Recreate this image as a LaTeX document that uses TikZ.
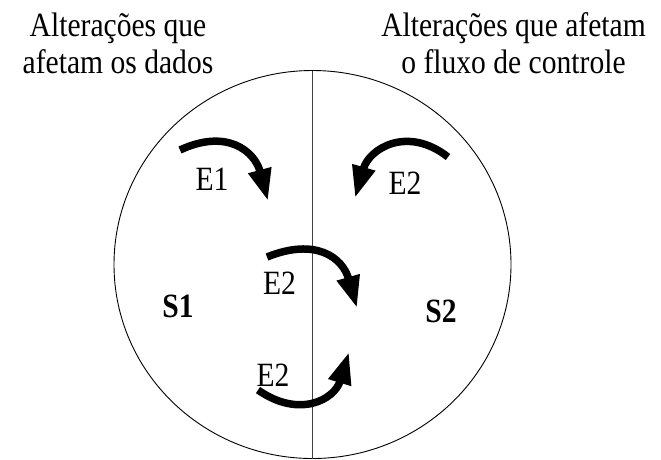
\documentclass[tikz,border=0pt]{standalone}
\usepackage{fontspec}
\setmainfont{Liberation Serif}[FakeStretch=0.87]
\usetikzlibrary{arrows.meta}

\begin{document}
\begin{tikzpicture}[
    x=1pt, y=1pt,
    txt/.style={font=\fontsize{34}{37}\selectfont, inner sep=0pt, anchor=base},
    title/.style={txt, align=center},
    state/.style={txt, font=\fontsize{34}{37}\selectfont\bfseries},
    flow/.style={line width=7.5pt, -{Triangle[length=32pt,width=22pt]}, looseness=1.3}
]
\useasboundingbox (0,0) rectangle (661,-459);

% the two regions
\draw[line width=0.9pt] (312.5,-264.5) ellipse [x radius=198.5, y radius=194];
\coordinate (top) at (312.5,-70.5);
\coordinate (bot) at (312.5,-459);
\draw[line width=0.9pt, black!75] (top) -- (bot);

% base of a two-line node is the baseline of its last line
\node[title] (tl) at (118,-73) {Alterações que\\afetam os dados};
\node[title] (tr) at (513.5,-73) {Alterações que afetam\\o fluxo de controle};

\node[state] (s1) at (178,-317) {S1};
\node[state] (s2) at (441,-322) {S2};

% events
\node[txt] (l1) at (212,-190) {E1};
\node[txt] (l2) at (405,-194) {E2};
\node[txt] (l3) at (279.5,-294) {E2};
\node[txt] (l4) at (273,-386) {E2};

\coordinate (a1) at (180,-150);
\coordinate (b1) at (268,-201);
\coordinate (a2) at (448,-157);
\coordinate (b2) at (355,-198);
\coordinate (a3) at (267,-257);
\coordinate (b3) at (357,-308);
\coordinate (a4) at (258,-390);
\coordinate (b4) at (349,-352);

\draw[flow] (a1) to[out=25, in=105] (b1);
\draw[flow] (a2) to[out=142, in=74] (b2);
\draw[flow] (a3) to[out=22, in=106] (b3);
\draw[flow] (a4) to[out=-35, in=253] (b4);
\end{tikzpicture}
\end{document}
